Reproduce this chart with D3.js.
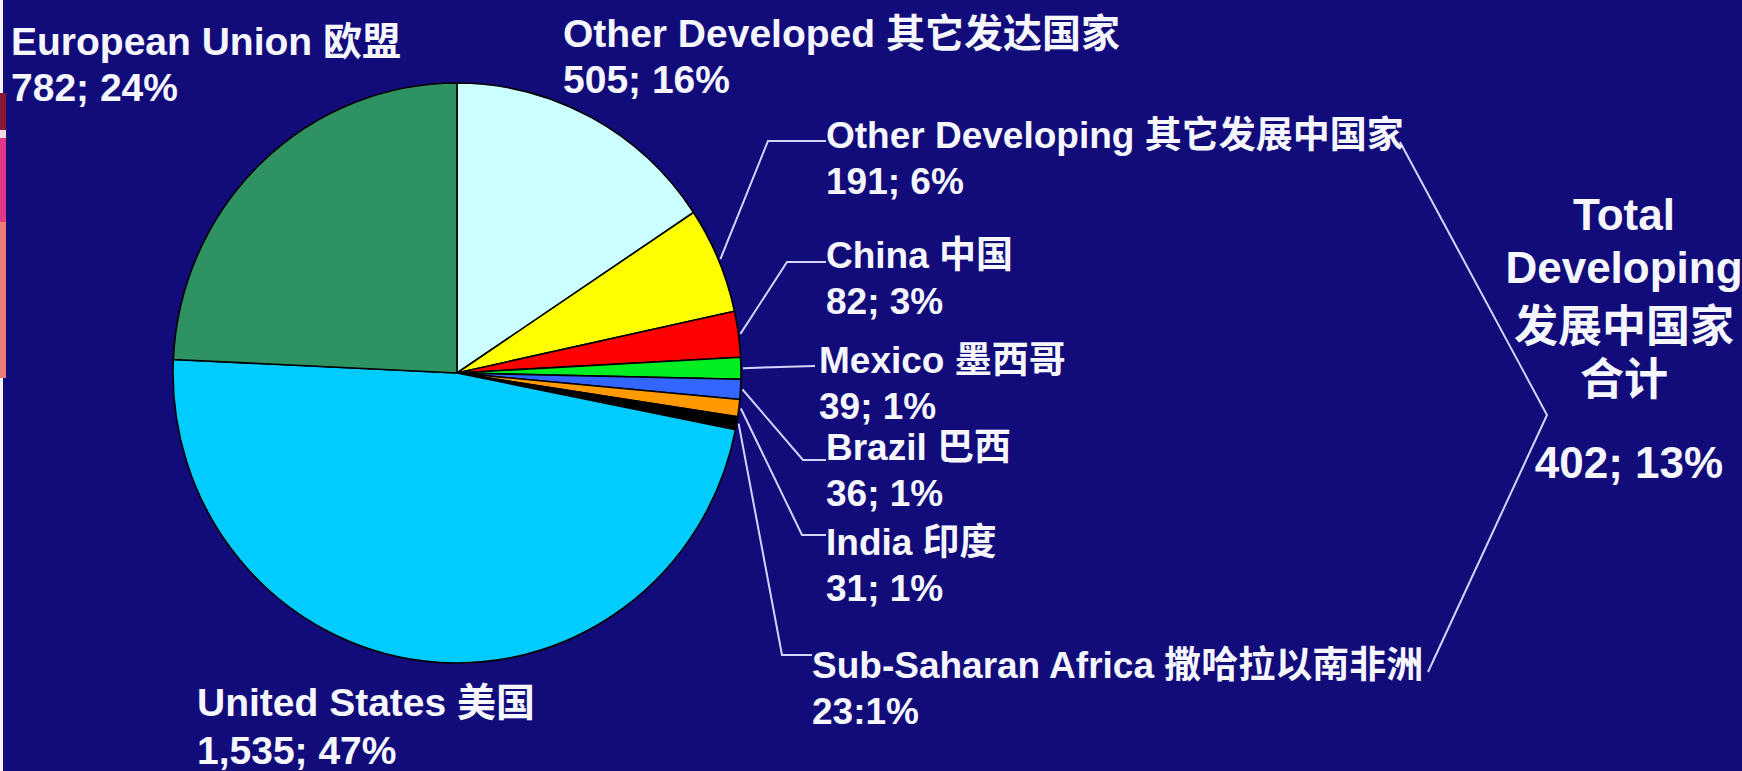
<!DOCTYPE html>
<html>
<head>
<meta charset="utf-8">
<script src="https://cdn.jsdelivr.net/npm/d3@7"></script>
<style>
  html, body { margin: 0; padding: 0; background: #120c7a; overflow: hidden; }
  svg { display: block; }
  text {
    font-family: "Liberation Sans", Arial, "Noto Sans CJK SC", sans-serif;
    font-weight: bold;
    fill: #f6f6ff;
  }
</style>
</head>
<body>
<svg id="chart" width="1742" height="771"></svg>
<script>
// Slices, clockwise from twelve o'clock
const categories = ["Other Developed", "Other Developing", "China", "Mexico", "Brazil",
                    "India", "Sub-Saharan Africa", "United States", "European Union"];
const chineseNames = ["其它发达国家", "其它发展中国家", "中国", "墨西哥", "巴西",
                      "印度", "撒哈拉以南非洲", "美国", "欧盟"];
const values = [505, 191, 82, 39, 36, 31, 23, 1535, 782];
const shares = ["16%", "6%", "3%", "1%", "1%", "1%", "1%", "47%", "24%"];
const separators = ["; ", "; ", "; ", "; ", "; ", "; ", ":", "; ", "; "];
const sliceColors = ["#ccffff", "#ffff00", "#ff0000", "#00ee22", "#3366ff",
                     "#ff9900", "#000000", "#00ccff", "#2f9262"];

// Developing-country group summarised by the bracket on the right
const developing = ["Other Developing", "China", "Mexico", "Brazil", "India", "Sub-Saharan Africa"];
const totalLines = ["Total", "Developing", "发展中国家", "合计"];
const totalShare = "13%";

const svg = d3.select("#chart");
const W = 1742, H = 771;

svg.append("rect").attr("width", W).attr("height", H).attr("fill", "#120c7a");

// thin slide-edge strip on the far left
const edge = svg.append("g");
edge.append("rect").attr("x", 0).attr("y", 0).attr("width", 3).attr("height", H).attr("fill", "#f4f0f4");
[[93, 130, "#8a1838"], [130, 138, "#f4d8e4"], [138, 222, "#e2388a"], [222, 378, "#ee7c76"]]
  .forEach(([y0, y1, c]) => edge.append("rect").attr("x", 0).attr("y", y0)
    .attr("width", 6).attr("height", y1 - y0).attr("fill", c));

// pie geometry (slightly taller than wide)
const cx = 457, cy = 373, rx = 284, ry = 290;
const fmt = d3.format(",");

const data = categories.map((c, i) => ({
  name: c, cn: chineseNames[i], value: values[i], share: shares[i], sep: separators[i], color: sliceColors[i]
}));

const pie = d3.pie().sort(null).value(d => d.value).startAngle(0).endAngle(2 * Math.PI);
const arcs = pie(data);
const arc = d3.arc().innerRadius(0).outerRadius(rx);

const pieG = svg.append("g").attr("transform", `translate(${cx},${cy}) scale(1,${ry / rx})`);
pieG.selectAll("path.slice")
  .data(arcs)
  .join("path")
  .attr("class", "slice")
  .attr("d", arc)
  .attr("fill", d => d.data.color)
  .attr("stroke", "#000")
  .attr("stroke-width", 1.6)
  .attr("vector-effect", "non-scaling-stroke")
  .attr("stroke-linejoin", "round");

function edgePoint(a, extra) {
  return [cx + (rx + extra) * Math.sin(a), cy - (ry + extra) * Math.cos(a)];
}

// label placement
const layout = {
  "European Union":     { x: 11,  y: 55, size: 39 },
  "Other Developed":    { x: 563, y: 47, size: 39 },
  "United States":      { x: 197, y: 716, gap: 48, size: 39 },
  "Other Developing":   { x: 826, y: 148, elbow: [768, 141], end: [826, 141] },
  "China":              { x: 826, y: 268, elbow: [787, 262], end: [826, 262] },
  "Mexico":             { x: 819, y: 373, end: [815, 366] },
  "Brazil":             { x: 826, y: 460, elbow: [803, 460], end: [826, 460] },
  "India":              { x: 826, y: 555, elbow: [802, 535], end: [826, 535] },
  "Sub-Saharan Africa": { x: 812, y: 678, elbow: [782, 655], end: [812, 655] }
};

const lineColor = "#d4d4ff";
const connectors = svg.append("g").attr("fill", "none").attr("stroke", lineColor)
  .attr("stroke-width", 2).attr("stroke-linejoin", "miter");

arcs.forEach(a => {
  const L = layout[a.data.name];
  if (L.end) {
    const mid = (a.startAngle + a.endAngle) / 2;
    const p0 = edgePoint(mid, 2);
    const pts = [p0];
    if (L.elbow) pts.push(L.elbow);
    pts.push(L.end);
    connectors.append("path").attr("d", d3.line()(pts));
  }
});

const labels = svg.append("g");
arcs.forEach(a => {
  const L = layout[a.data.name];
  const gap = L.gap || 46;
  const size = (L.size || 37) + "px";
  labels.append("text").attr("x", L.x).attr("y", L.y).style("font-size", size)
    .text(`${a.data.name} ${a.data.cn}`);
  labels.append("text").attr("x", L.x).attr("y", L.y + gap).style("font-size", size)
    .text(`${fmt(a.data.value)}${a.data.sep}${a.data.share}`);
});

// bracket joining the developing-country labels
connectors.append("path").attr("d", d3.line()([[1400, 142], [1547, 415], [1428, 672]]));

// developing-country total
const totalValue = d3.sum(data.filter(d => developing.includes(d.name)), d => d.value);
const tg = svg.append("g").attr("text-anchor", "middle").style("font-size", "44px");
const totalY = [230, 283, 342, 395];
totalLines.forEach((s, i) => tg.append("text").attr("x", 1624).attr("y", totalY[i]).text(s));
tg.append("text").attr("x", 1629).attr("y", 478).text(`${fmt(totalValue)}; ${totalShare}`);
</script>
</body>
</html>
